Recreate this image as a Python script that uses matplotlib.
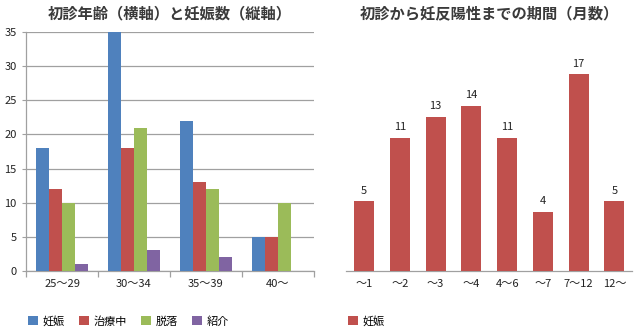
import matplotlib
matplotlib.use("Agg")
import matplotlib.pyplot as plt
import numpy as np

plt.rcParams['font.family'] = ['Noto Sans CJK JP', 'DejaVu Sans']

# left chart data
ages = ["25～29", "30～34", "35～39", "40～"]
ninshin = [18, 35, 22, 5]
chiryou = [12, 18, 13, 5]
datsuraku = [10, 21, 12, 10]
shoukai = [1, 3, 2, 0]
left_names = ["妊娠", "治療中", "脱落", "紹介"]
left_colors = ["#4F81BD", "#C0504D", "#9BBB59", "#8064A2"]

# right chart data
months = ["～1", "～2", "～3", "～4", "4～6", "～7", "7～12", "12～"]
counts = [5, 11, 13, 14, 11, 4, 17, 5]

gray = "#A0A0A0"
txt = "#222222"

fig = plt.figure(figsize=(6.4, 3.3), dpi=100)
ax1 = fig.add_axes([0.041, 0.179, 0.449, 0.724])
ax2 = fig.add_axes([0.541, 0.179, 0.447, 0.724])

# ---- left: grouped bars
x = np.arange(len(ages))
w = 0.18
series = [ninshin, chiryou, datsuraku, shoukai]
handles = []
for i, s in enumerate(series):
    b = ax1.bar(x + (i - 1.5) * w, s, w, color=left_colors[i], label=left_names[i], zorder=3)
    handles.append(b)
ax1.set_xlim(-0.5, len(ages) - 0.5)
ax1.set_ylim(0, 35)
ax1.set_yticks(range(0, 36, 5))
ax1.yaxis.grid(True, color=gray, linewidth=0.9, zorder=0)
ax1.set_xticks(x)
ax1.set_xticklabels(ages)
ax1.set_xticks(np.arange(-0.5, len(ages), 1), minor=True)
ax1.tick_params(axis='x', which='major', length=0, labelsize=8, colors=txt, pad=6)
ax1.tick_params(axis='x', which='minor', length=4, color=gray, width=0.9)
ax1.tick_params(axis='y', length=3, color=gray, labelsize=8, colors=txt, pad=4)
for sp in ["top", "right"]:
    ax1.spines[sp].set_visible(False)
for sp in ["left", "bottom"]:
    ax1.spines[sp].set_color(gray)
    ax1.spines[sp].set_linewidth(0.9)
ax1.set_title("初診年齢（横軸）と妊娠数（縦軸）", fontsize=11, fontweight="bold", color="#3a3a3a", pad=10)
fig.legend(handles=handles, loc="lower left", bbox_to_anchor=(0.028, -0.02), ncol=4,
           frameon=False, fontsize=8, handlelength=0.9, handleheight=0.9,
           handletextpad=0.4, columnspacing=1.3)

# ---- right: single series, value axis hidden
ymin = -1.6
x2 = np.arange(len(months))
vals = np.array(counts)
b2 = ax2.bar(x2, vals - ymin, 0.56, bottom=ymin, color="#C0504D", label="妊娠", zorder=3)
for xi, v in zip(x2, counts):
    ax2.annotate(str(v), (xi, v), xytext=(0, 4), textcoords="offset points",
                 ha="center", va="bottom", fontsize=8, color=txt)
ax2.set_xlim(-0.5, len(months) - 0.5)
ax2.set_ylim(ymin, 21)
ax2.set_yticks([])
ax2.set_xticks(x2)
ax2.set_xticklabels(months)
ax2.tick_params(axis='x', length=0, labelsize=8, colors=txt, pad=6)
for sp in ["top", "right", "left"]:
    ax2.spines[sp].set_visible(False)
ax2.spines["bottom"].set_color(gray)
ax2.spines["bottom"].set_linewidth(0.9)
ax2.set_title("初診から妊反陽性までの期間（月数）", fontsize=11, fontweight="bold", color="#3a3a3a", pad=10)
fig.legend(handles=[b2], loc="lower left", bbox_to_anchor=(0.528, -0.02),
           frameon=False, fontsize=8, handlelength=0.9, handleheight=0.9,
           handletextpad=0.4)

fig.savefig("out.png", dpi=100)
